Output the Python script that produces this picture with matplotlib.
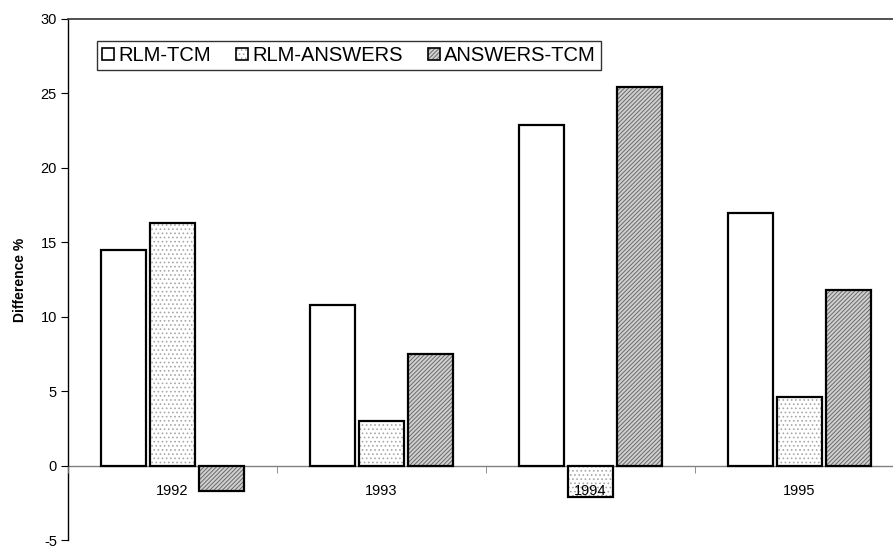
import matplotlib
matplotlib.use("Agg")
import matplotlib.pyplot as plt
import numpy as np
from matplotlib.patches import Patch

plt.rcParams['font.family'] = ['Liberation Sans', 'DejaVu Sans']
plt.rcParams['hatch.linewidth'] = 0.7

years = ['1992', '1993', '1994', '1995']
series_names = ['RLM-TCM', 'RLM-ANSWERS', 'ANSWERS-TCM']
rlm_tcm = [14.5, 10.8, 22.9, 17.0]
rlm_answers = [16.3, 3.0, -2.1, 4.6]
answers_tcm = [-1.7, 7.5, 25.4, 11.8]
y_ticks = [-5, 0, 5, 10, 15, 20, 25, 30]

fig = plt.figure(figsize=(8.93, 5.48), dpi=100)
ax = fig.add_axes([68/893, 8/548, 836/893, 521/548])

x = np.arange(len(years))
pitch = 49/209
width = 45/209

styles = [
    dict(face='white', hatch=None, hcolor='black'),
    dict(face='white', hatch='....', hcolor='#a8a8a8'),
    dict(face='#d0d0d0', hatch='////////', hcolor='#6a6a6a'),
]
data = [rlm_tcm, rlm_answers, answers_tcm]
handles = []
for j, (vals, st) in enumerate(zip(data, styles)):
    pos = x + (j - 1) * pitch
    ax.bar(pos, vals, width=width, color=st['face'], edgecolor=st['hcolor'],
           hatch=st['hatch'], linewidth=0, zorder=1)
    ax.bar(pos, vals, width=width, fill=False, edgecolor='black',
           linewidth=1.6, zorder=1.2)
    p1 = Patch(facecolor=st['face'], edgecolor=st['hcolor'], hatch=st['hatch'], linewidth=0)
    p2 = Patch(fill=False, edgecolor='black', linewidth=1.2)
    handles.append((p1, p2))

ax.set_xlim(-0.5, len(years) - 0.5)
ax.set_ylim(-5, 30)
ax.set_yticks(y_ticks)
ax.set_yticklabels([str(v) for v in y_ticks], fontsize=10.5)

ax.spines['right'].set_visible(False)
ax.spines['top'].set_color('#333333')
ax.spines['top'].set_linewidth(1.2)
ax.spines['left'].set_color('black')
ax.spines['left'].set_linewidth(1.0)
ax.spines['bottom'].set_position(('data', 0))
ax.spines['bottom'].set_color('#808080')
ax.spines['bottom'].set_linewidth(1.0)
ax.spines['bottom'].set_zorder(0.9)

ax.set_xticks(x)
ax.set_xticklabels(years, fontsize=10.5)
ax.set_xticks(np.arange(len(years) + 1) - 0.5, minor=True)
ax.tick_params(axis='x', which='major', length=0, pad=13)
ax.tick_params(axis='x', which='minor', length=5, color='#808080', direction='out')
ax.tick_params(axis='y', which='major', length=5, direction='out', pad=3)
ax.xaxis.set_zorder(5)

ax.set_ylabel('Difference %', fontsize=10, fontweight='bold', labelpad=10)

leg = ax.legend(handles, series_names, loc='upper left',
                bbox_to_anchor=(97/893, 1 - 41/548), bbox_transform=fig.transFigure,
                ncol=3, fontsize=14.5, frameon=True, fancybox=False,
                handlelength=0.6, handleheight=0.6, handletextpad=0.2,
                columnspacing=1.25, borderpad=0.25, borderaxespad=0)
leg.get_frame().set_edgecolor('black')
leg.get_frame().set_linewidth(1.0)
leg.set_zorder(6)

fig.savefig('out.png', dpi=100)
